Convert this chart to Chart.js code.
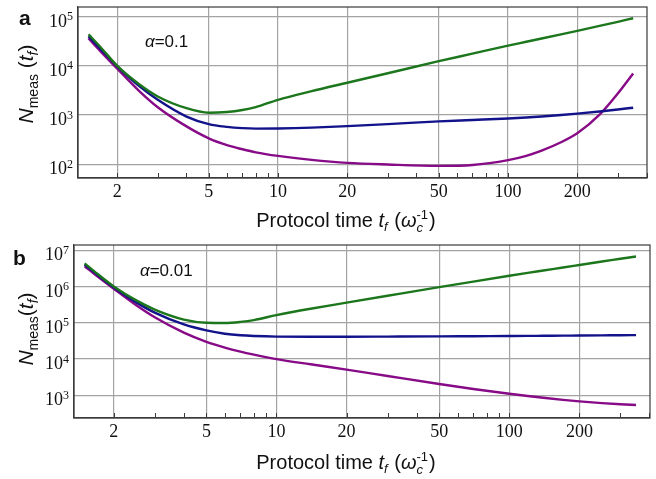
<!DOCTYPE html>
<html>
<head>
<meta charset="utf-8">
<script src="https://cdn.jsdelivr.net/npm/chart.js@4"></script>
<style>
  html, body { margin: 0; padding: 0; background: #ffffff; }
  #wrap { position: relative; width: 656px; height: 479px; }
  canvas { position: absolute; left: 0; }
</style>
</head>
<body>
<div id="wrap">
  <canvas id="panelA" width="656" height="240" style="top:0px"></canvas>
  <canvas id="panelB" width="656" height="239" style="top:240px"></canvas>
</div>
<script>
// Protocol times t_f (units of 1/omega_c) at which N_meas is sampled
const times = [1.5, 1.7, 2, 2.5, 3, 4, 5, 6, 7, 8, 10, 14, 20, 30, 50, 70, 100, 120, 140, 170, 200, 250, 300, 350];

// Panel a, alpha = 0.1
const greenA  = [43600, 23400, 10000, 4190, 2390, 1380, 1115, 1156, 1268, 1449, 2046, 3063, 4540, 7080, 12440, 17700, 25800, 30900, 36000, 43700, 51500, 64800, 78500, 92700];
const blueA   = [39800, 21400, 9770, 3830, 2040, 933, 655, 575, 543, 532, 535, 556, 597, 655, 745, 796, 855, 895, 937, 1002, 1071, 1185, 1298, 1413];
const purpleA = [36100, 19300, 8770, 3040, 1445, 589, 337, 245, 202, 175, 148, 123, 107, 99, 93, 97, 122, 149, 190, 281, 427, 1020, 2740, 7030];

// Panel b, alpha = 0.01
const greenB  = [4.37e6, 2.25e6, 1.01e6, 4.15e5, 2.32e5, 1.23e5, 1.007e5, 9.9e4, 1.06e5, 1.19e5, 1.63e5, 2.44e5, 3.59e5, 5.56e5, 9.62e5, 1.37e6, 1.98e6, 2.38e6, 2.77e6, 3.36e6, 3.94e6, 4.9e6, 5.83e6, 6.76e6];
const blueB   = [4.07e6, 2.12e6, 9.57e5, 3.66e5, 1.905e5, 9.0e4, 6.17e4, 5.0e4, 4.52e4, 4.32e4, 4.17e4, 4.14e4, 4.14e4, 4.17e4, 4.22e4, 4.27e4, 4.32e4, 4.35e4, 4.38e4, 4.42e4, 4.45e4, 4.5e4, 4.54e4, 4.58e4];
const purpleB = [3.63e6, 1.92e6, 8.73e5, 3.05e5, 1.42e5, 5.35e4, 2.99e4, 2.08e4, 1.61e4, 1.33e4, 1.0e4, 7180, 5120, 3410, 2050, 1500, 1110, 960, 855, 750, 679, 608, 568, 543];

// Axis ticks
const xTickValues  = [2, 5, 10, 20, 50, 100, 200];
const xMinorValues = [3, 4, 6, 7, 8, 9, 30, 40, 60, 70, 80, 90, 300, 400];
const yDecadesA = [1e2, 1e3, 1e4, 1e5];
const yDecadesB = [1e3, 1e4, 1e5, 1e6, 1e7];

const COLORS = { green: '#1c761c', blue: '#12128a', purple: '#870a87' };
const SANS = "'Liberation Sans', Arial, sans-serif";
const SERIF = "'Liberation Serif', 'Times New Roman', serif";

function toPoints(ys) {
  return times.map((t, i) => ({ x: t, y: ys[i] }));
}

// Draws a sequence of text runs (font/offset per run); a run with stack:true
// is placed at the same x as the run before it (sub/superscript pair).
function layoutRuns(ctx, runs) {
  let x = 0, prevStart = 0, prevW = 0;
  const items = [];
  for (const r of runs) {
    ctx.font = r.font;
    const w = ctx.measureText(r.text).width;
    if (r.stack) {
      items.push({ r, x: prevStart });
      const adv = Math.max(prevW, w);
      x = prevStart + adv + (r.after || 0);
      prevW = adv;
    } else {
      x += (r.before || 0);
      items.push({ r, x });
      prevStart = x;
      prevW = w;
      x += w + (r.after || 0);
    }
  }
  return { items, width: x };
}
function drawRuns(ctx, runs, x0, y0, align) {
  const lay = layoutRuns(ctx, runs);
  const start = align === 'center' ? x0 - lay.width / 2 : x0;
  ctx.textAlign = 'left';
  ctx.textBaseline = 'alphabetic';
  for (const it of lay.items) {
    ctx.font = it.r.font;
    ctx.fillText(it.r.text, start + it.x, y0 + (it.r.dy || 0));
  }
}

function makePanel(canvasId, cfg) {
  const canvas = document.getElementById(canvasId);
  const W = canvas.width, H = canvas.height;

  const decorations = {
    id: 'decorations',
    afterDraw(chart) {
      const ctx = chart.ctx;
      const area = chart.chartArea;
      const xs = chart.scales.x, ys = chart.scales.y;
      ctx.save();

      // plot frame
      ctx.strokeStyle = '#3a3a3a';
      ctx.lineWidth = 1.2;
      ctx.strokeRect(area.left, area.top, area.right - area.left, area.bottom - area.top);

      // inward tick marks along the bottom edge
      ctx.lineWidth = 1;
      for (const v of xMinorValues.concat(xTickValues)) {
        const px = Math.round(xs.getPixelForValue(v)) + 0.5;
        if (px < area.left || px > area.right + 1) continue;
        ctx.beginPath();
        ctx.moveTo(px, area.bottom);
        ctx.lineTo(px, area.bottom - 5);
        ctx.stroke();
      }

      // y tick labels: 10 with a raised exponent
      ctx.fillStyle = '#111';
      for (const v of cfg.yDecades) {
        const py = ys.getPixelForValue(v);
        const exp = String(Math.round(Math.log10(v)));
        ctx.font = '12px ' + SERIF;
        const ew = ctx.measureText(exp).width;
        const right = area.left - 5;
        ctx.textAlign = 'left';
        ctx.textBaseline = 'alphabetic';
        ctx.fillText(exp, right - ew, py + 3.5);
        ctx.font = '18px ' + SERIF;
        ctx.textAlign = 'right';
        ctx.fillText('10', right - ew, py + 10);
      }

      // y axis title, rotated
      ctx.save();
      ctx.translate(cfg.yTitleX, cfg.yTitleY);
      ctx.rotate(-Math.PI / 2);
      ctx.fillStyle = '#111';
      drawRuns(ctx, cfg.yTitleRuns, 0, 0, 'center');
      ctx.restore();

      // x axis title
      ctx.fillStyle = '#111';
      drawRuns(ctx, [
        { text: 'Protocol time ', font: '20px ' + SANS },
        { text: 't', font: 'italic 20px ' + SANS },
        { text: 'f', font: 'italic 13px ' + SANS, dy: 4 },
        { text: ' (', font: '20px ' + SANS, before: 1 },
        { text: 'ω', font: 'italic 20px ' + SANS },
        { text: 'c', font: 'italic 13px ' + SANS, dy: 5 },
        { text: '-1', font: '13px ' + SANS, dy: -8, stack: true, after: 1 },
        { text: ')', font: '20px ' + SANS }
      ], cfg.xTitleX, cfg.xTitleY, 'center');

      // panel letter
      ctx.font = 'bold 21px ' + SANS;
      ctx.textAlign = 'left';
      ctx.fillText(cfg.letter, cfg.letterX, cfg.letterY);

      // alpha annotation
      drawRuns(ctx, [
        { text: 'α', font: 'italic 17px ' + SANS },
        { text: cfg.alphaText, font: '17px ' + SANS }
      ], cfg.alphaX, cfg.alphaY, 'left');

      ctx.restore();
    }
  };

  return new Chart(canvas, {
    type: 'line',
    data: {
      datasets: [
        { data: toPoints(cfg.green),  borderColor: COLORS.green },
        { data: toPoints(cfg.blue),   borderColor: COLORS.blue },
        { data: toPoints(cfg.purple), borderColor: COLORS.purple }
      ].map(d => Object.assign(d, {
        borderWidth: 2.4,
        pointRadius: 0,
        fill: false,
        cubicInterpolationMode: 'monotone'
      }))
    },
    options: {
      responsive: false,
      devicePixelRatio: 1,
      animation: false,
      events: [],
      layout: { padding: { left: 0, top: cfg.area.top, right: W - cfg.area.right, bottom: 0 } },
      plugins: { legend: { display: false }, tooltip: { enabled: false } },
      scales: {
        x: {
          type: 'logarithmic',
          min: 1.35, max: 402,
          afterBuildTicks: s => { s.ticks = xTickValues.map(v => ({ value: v })); },
          afterFit: s => { s.height = H - cfg.area.bottom; },
          ticks: {
            autoSkip: false, maxRotation: 0,
            padding: 3,
            color: '#111',
            font: { family: 'Liberation Serif', size: 18 },
            callback: v => String(v)
          },
          grid: { color: '#a3a3a3', lineWidth: 1.2, drawTicks: false, tickLength: 0 },
          border: { display: true, color: '#3a3a3a', width: 1.2 }
        },
        y: {
          type: 'logarithmic',
          min: cfg.yMin, max: cfg.yMax,
          afterBuildTicks: s => { s.ticks = cfg.yDecades.map(v => ({ value: v })); },
          afterFit: s => { s.width = cfg.area.left; },
          ticks: { display: false },
          grid: { color: '#a3a3a3', lineWidth: 1.2, drawTicks: false, tickLength: 0 },
          border: { display: true, color: '#3a3a3a', width: 1.2 }
        }
      }
    },
    plugins: [decorations]
  });
}

makePanel('panelA', {
  area: { left: 78, right: 647, top: 7, bottom: 178 },
  yMin: 52.7, yMax: 157000,
  yDecades: yDecadesA,
  green: greenA, blue: blueA, purple: purpleA,
  yTitleX: 33, yTitleY: 84,
  yTitleRuns: [
    { text: 'N', font: 'italic 21px ' + SANS },
    { text: 'meas', font: '14px ' + SANS, dy: 5 },
    { text: ' (', font: '21px ' + SANS },
    { text: 't', font: 'italic 21px ' + SANS },
    { text: 'f', font: 'italic 14px ' + SANS, dy: 5 },
    { text: ')', font: '21px ' + SANS }
  ],
  xTitleX: 346, xTitleY: 227,
  letter: 'a', letterX: 19, letterY: 25,
  alphaText: '=0.1', alphaX: 145, alphaY: 47
});

makePanel('panelB', {
  area: { left: 74, right: 650, top: 5, bottom: 178 },
  yMin: 237, yMax: 1.4e7,
  yDecades: yDecadesB,
  green: greenB, blue: blueB, purple: purpleB,
  yTitleX: 33, yTitleY: 89,
  yTitleRuns: [
    { text: 'N', font: 'italic 21px ' + SANS },
    { text: 'meas', font: '14px ' + SANS, dy: 5 },
    { text: '(', font: '21px ' + SANS },
    { text: 't', font: 'italic 21px ' + SANS },
    { text: 'f', font: 'italic 14px ' + SANS, dy: 5 },
    { text: ')', font: '21px ' + SANS }
  ],
  xTitleX: 346, xTitleY: 229,
  letter: 'b', letterX: 13, letterY: 25,
  alphaText: '=0.01', alphaX: 140, alphaY: 36
});
</script>
</body>
</html>
